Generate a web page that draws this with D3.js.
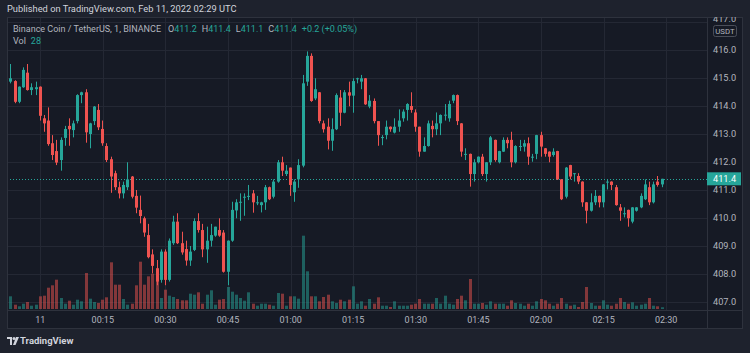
<!DOCTYPE html>
<html><head><meta charset="utf-8">
<script src="https://cdn.jsdelivr.net/npm/d3@7"></script>
<style>
html,body{margin:0;padding:0;background:#1e222d;}
svg{display:block;font-family:Roboto,"Noto Sans",sans-serif;}
</style></head>
<body><svg id="c" width="750" height="353"></svg>
<script>
// ---- data (1-minute candles, BNB/USDT, Binance) ----
const startMinute = "2022-02-10T23:52:00Z";
const open = [413.05,414.87,414.89,414.15,414.67,415.19,414.57,414.6,414.69,413.56,413.48,412.67,412.39,412.07,412.86,413.29,413.14,413.46,414.39,414.49,413.0,413.46,413.86,413.18,412.57,412.1,411.6,411.1,410.88,411.1,411.48,410.79,410.29,409.99,409.39,408.7,408.2,407.79,408.8,407.79,409.1,409.87,409.1,408.89,408.48,408.86,409.89,409.57,408.88,409.19,409.37,409.57,409.48,408.08,409.19,410.27,410.55,410.74,410.78,410.88,410.55,410.46,410.56,411.1,410.76,411.3,411.99,411.57,411.8,410.92,411.38,411.87,414.87,415.79,414.27,414.49,413.38,413.26,412.76,413.17,414.3,413.76,414.49,414.37,414.98,414.87,414.99,413.98,414.18,413.46,412.86,412.96,413.26,413.05,413.26,413.56,413.86,414.0,413.77,413.26,412.37,412.57,413.29,413.17,413.38,413.67,413.56,414.19,414.39,413.38,412.27,412.29,411.57,411.99,412.19,411.57,411.99,412.79,411.99,412.37,412.79,412.79,411.99,412.56,412.55,412.67,412.18,412.29,412.96,412.49,412.37,412.25,412.39,411.38,410.76,411.89,411.58,411.5,411.3,410.56,410.26,410.56,410.79,410.56,411.29,411.3,411.1,410.38,410.16,410.29,409.87,410.26,410.38,410.67,411.1,410.56,411.3,411.2];
const high = [414.87,415.5,414.92,414.7,415.38,415.5,414.81,414.87,414.7,413.68,413.95,412.96,412.79,412.88,413.29,413.56,413.48,414.42,414.51,414.6,413.4,414.0,414.07,413.48,412.67,412.19,411.69,411.3,411.3,411.99,411.5,411.0,410.8,410.05,409.79,408.88,408.5,408.88,408.88,409.27,410.08,410.17,409.51,409.19,409.0,409.99,410.17,409.79,409.69,409.79,409.69,409.99,409.57,409.2,410.58,410.67,410.88,410.88,411.18,411.0,410.79,410.58,411.18,411.12,411.38,412.07,412.19,411.89,411.8,411.38,412.1,415.11,415.95,415.88,414.99,414.5,413.48,413.56,413.56,414.45,414.57,414.57,414.87,414.99,415.01,415.11,415.0,414.39,414.27,413.46,412.96,413.48,413.27,413.56,413.88,413.88,414.1,414.49,413.88,413.26,412.88,413.48,413.48,413.77,413.7,414.07,414.19,414.41,414.41,413.39,412.49,412.3,412.1,412.2,412.29,412.0,412.93,412.8,412.4,412.88,412.88,413.08,412.6,412.79,412.79,412.88,412.29,412.97,413.08,412.5,412.38,412.49,412.4,411.39,411.82,411.9,411.6,411.6,411.31,410.57,410.88,411.0,410.8,411.21,411.38,411.31,411.18,410.5,410.38,410.3,410.39,410.39,410.88,411.38,411.3,411.3,411.5,411.4];
const low = [413.0,414.81,414.1,414.1,414.65,414.55,414.39,414.39,413.48,413.08,412.58,412.07,411.89,411.69,412.58,412.58,412.88,413.38,414.1,412.69,412.49,413.32,413.14,412.58,412.0,410.9,411.0,410.7,410.7,411.0,410.7,410.17,409.81,409.33,408.56,408.02,407.6,407.69,407.6,407.73,409.04,409.07,408.69,408.3,408.29,408.82,409.48,408.6,408.4,408.98,409.33,409.33,408.05,407.6,409.15,409.99,409.9,410.08,410.64,410.19,410.46,410.2,410.29,410.64,410.7,411.26,411.5,411.5,410.79,410.58,411.08,411.81,414.72,414.15,414.21,413.38,413.05,412.45,412.4,413.14,413.29,413.74,413.99,413.76,414.81,414.6,414.04,413.92,413.38,412.58,412.6,412.81,413.08,413.02,413.08,413.44,413.48,413.76,413.08,412.19,412.37,412.55,412.88,412.96,412.96,413.48,413.44,414.1,413.32,412.19,412.07,411.12,411.3,411.95,411.5,411.3,411.89,412.01,411.95,412.36,412.49,411.81,411.95,412.39,412.37,411.9,412.01,412.1,412.19,412.19,411.99,412.19,411.36,410.64,410.7,411.38,411.3,411.21,410.4,409.81,410.23,410.46,410.38,410.38,411.02,411.0,410.44,409.9,410.02,409.69,409.81,410.23,410.35,410.64,410.46,410.52,411.12,411.1];
const close = [414.81,414.99,414.15,414.69,415.29,414.57,414.67,414.67,413.65,413.38,412.64,412.25,411.98,412.79,413.18,413.17,413.38,414.39,414.49,413.06,413.38,413.98,413.24,412.67,412.07,411.48,411.1,410.88,411.18,411.38,410.76,410.37,410.07,409.48,408.6,408.29,407.73,408.8,407.79,409.19,409.87,409.1,408.77,408.48,408.8,409.89,409.57,408.88,409.19,409.39,409.69,409.37,408.08,409.19,410.29,410.56,410.58,410.76,410.79,410.56,410.56,410.56,411.1,410.67,411.3,411.99,411.69,411.69,411.18,411.3,411.89,414.81,415.79,414.18,414.6,413.46,413.17,412.76,413.17,414.39,413.76,414.49,414.37,414.89,414.99,414.99,414.06,414.19,413.46,412.96,412.89,413.26,413.17,413.26,413.48,413.8,414.07,413.86,413.26,412.37,412.57,413.38,413.17,413.38,413.68,413.69,414.07,414.39,413.46,412.37,412.29,411.57,411.99,412.19,411.57,411.99,412.88,412.07,412.39,412.79,412.67,411.99,412.57,412.57,412.67,412.19,412.19,412.96,412.55,412.29,412.19,412.37,411.38,410.67,411.8,411.48,411.6,411.3,410.56,410.26,410.56,410.79,410.56,411.2,411.3,411.18,410.46,410.26,410.17,409.99,410.38,410.38,410.79,411.2,410.56,411.2,411.18,411.4];
const volume = [192,203,69,43,85,112,53,69,203,213,341,379,469,176,85,133,69,149,123,576,165,112,96,149,187,747,389,389,160,69,85,379,757,389,523,565,656,176,309,213,192,160,139,139,245,229,267,85,229,299,69,149,160,352,277,229,176,133,267,85,53,85,85,69,53,256,245,53,203,203,165,1173,603,203,203,123,192,229,123,96,149,123,149,363,85,123,53,160,85,187,53,53,32,123,53,53,53,69,85,160,85,85,85,176,85,213,85,69,160,213,139,480,85,85,96,69,123,85,85,85,53,139,96,85,53,85,53,123,160,139,85,53,85,176,85,53,69,32,112,352,96,53,53,139,69,53,85,176,112,85,107,53,69,85,176,53,43,28];
const priceTicks = [407,408,409,410,411,412,413,414,415,416,417];
const symbolTitle = "Binance Coin / TetherUS, 1, BINANCE";
const publishedText = "Published on TradingView.com, Feb 11, 2022 02:29 UTC";
const lastPrice = 411.4;
const legendValues = [["O","411.2"],["H","411.4"],["L","411.1"],["C","411.4"]];
const changeText = "+0.2 (+0.05%)";
const lastVolume = "28";

// ---- layout ----
const W = 750, H = 353;
const paneL = 7, paneR = 707, paneT = 17, paneB = 310, axisR = 742, timeB = 328;
const UP = "#26a69a", DN = "#ef5350";
const UPV = "rgba(38,166,154,0.5)", DNV = "rgba(239,83,80,0.5)";
const GRID = "#242834", BORDER = "#2e323d", TXT = "#b2b5be";

const svg = d3.select("#c");
svg.append("rect").attr("width", W).attr("height", H).attr("fill", "#1e222d");
svg.append("rect").attr("x", paneL).attr("y", paneT).attr("width", axisR - paneL).attr("height", timeB - paneT).attr("fill", "#161a25");

const t0 = new Date(startMinute).getTime();
const data = open.map((o, i) => ({
  t: new Date(t0 + i * 60000), o, h: high[i], l: low[i], c: close[i], v: volume[i]
}));

const x = d3.scaleUtc()
  .domain([new Date("2022-02-11T00:00:00Z"), new Date("2022-02-11T02:30:00Z")])
  .range([40.2, 666.2]);
const y = d3.scaleLinear().domain([407, 416]).range([302, 50]);
const yv = d3.scaleLinear().domain([0, 1200]).range([paneB - 1, paneB - 76]);

const defs = svg.append("defs");
defs.append("clipPath").attr("id", "pane")
  .append("rect").attr("x", paneL).attr("y", paneT).attr("width", paneR - paneL).attr("height", paneB - paneT);
defs.append("clipPath").attr("id", "paxis")
  .append("rect").attr("x", paneR).attr("y", paneT).attr("width", axisR - paneR).attr("height", paneB - paneT);

const pane = svg.append("g").attr("clip-path", "url(#pane)");

// grid
const tickTimes = d3.utcMinute.every(15).range(x.invert(paneL), x.invert(paneR));
pane.selectAll("line.vg").data(tickTimes).join("line")
  .attr("x1", d => Math.round(x(d)) + 0.5).attr("x2", d => Math.round(x(d)) + 0.5)
  .attr("y1", paneT).attr("y2", paneB).attr("stroke", GRID);
pane.selectAll("line.hg").data(priceTicks).join("line")
  .attr("x1", paneL).attr("x2", paneR)
  .attr("y1", d => Math.round(y(d)) + 0.5).attr("y2", d => Math.round(y(d)) + 0.5).attr("stroke", GRID);

// volume
pane.selectAll("rect.vol").data(data).join("rect")
  .attr("x", d => Math.round(x(d.t) - 1.5)).attr("width", 3)
  .attr("y", d => yv(d.v)).attr("height", d => yv(0) - yv(d.v))
  .attr("fill", d => d.c >= d.o ? UPV : DNV);

// last price line
pane.append("line").attr("x1", paneL).attr("x2", paneR)
  .attr("y1", Math.round(y(lastPrice)) + 0.5).attr("y2", Math.round(y(lastPrice)) + 0.5)
  .attr("stroke", UP).attr("stroke-dasharray", "1,2");

// candles
const cg = pane.selectAll("g.c").data(data).join("g");
cg.append("rect").attr("x", d => Math.round(x(d.t) - 0.5)).attr("width", 1)
  .attr("y", d => y(d.h)).attr("height", d => Math.max(1, y(d.l) - y(d.h)))
  .attr("fill", d => d.c >= d.o ? UP : DN);
cg.append("rect").attr("x", d => Math.round(x(d.t) - 1.5)).attr("width", 3)
  .attr("y", d => y(Math.max(d.o, d.c)))
  .attr("height", d => Math.max(1, Math.abs(y(d.o) - y(d.c))))
  .attr("fill", d => d.c >= d.o ? UP : DN);

// borders
const bl = (x1, y1, x2, y2) => svg.append("line").attr("x1", x1).attr("y1", y1).attr("x2", x2).attr("y2", y2).attr("stroke", BORDER);
bl(paneL + 0.5, paneT, paneL + 0.5, timeB);
bl(paneR + 0.5, paneT, paneR + 0.5, timeB);
bl(axisR + 0.5, paneT, axisR + 0.5, timeB);
bl(paneL, paneT + 0.5, axisR + 1, paneT + 0.5);
bl(paneL, paneB + 0.5, axisR + 1, paneB + 0.5);
bl(paneL, timeB + 0.5, axisR + 1, timeB + 0.5);

// price axis (top label sits just above the currency box, clipped by the pane top)
const pa = svg.append("g").attr("clip-path", "url(#paxis)");
pa.selectAll("text").data(priceTicks).join("text")
  .attr("x", 713).attr("y", d => y(d) - (d === 417 ? 3 : 0)).attr("dy", "0.35em")
  .attr("font-size", 9.2).attr("fill", TXT).text(d => d.toFixed(1));
pa.append("rect").attr("x", 713.5).attr("y", 25.5).attr("width", 23).attr("height", 11).attr("rx", 2)
  .attr("fill", "#161a25").attr("stroke", "#4a4e59");
pa.append("text").attr("x", 725).attr("y", 31.5).attr("dy", "0.35em").attr("text-anchor", "middle")
  .attr("font-size", 7.8).attr("fill", TXT).text("USDT");
svg.append("rect").attr("x", paneR).attr("y", y(lastPrice) - 6.5).attr("width", 34).attr("height", 13).attr("fill", UP);
svg.append("text").attr("x", 713).attr("y", y(lastPrice)).attr("dy", "0.35em")
  .attr("font-size", 9.2).attr("fill", "#ffffff").text(lastPrice.toFixed(1));

// time axis
const fmt = d => (d.getUTCHours() === 0 && d.getUTCMinutes() === 0) ? d3.utcFormat("%-d")(d) : d3.utcFormat("%H:%M")(d);
svg.append("g").selectAll("text").data(tickTimes).join("text")
  .attr("x", d => x(d)).attr("y", 319.5).attr("dy", "0.35em").attr("text-anchor", "middle")
  .attr("font-size", 9).attr("fill", TXT).text(fmt);

// header
svg.append("text").attr("x", 7).attr("y", 9).attr("dy", "0.35em").attr("font-size", 9.3)
  .attr("fill", "#d1d4dc").text(publishedText);

// legend
const lg = svg.append("text").attr("x", 13).attr("y", 29).attr("dy", "0.35em").attr("font-size", 9).attr("fill", TXT);
lg.append("tspan").text(symbolTitle);
legendValues.forEach(([k, v], i) => {
  lg.append("tspan").attr("dx", i === 0 ? 7 : 5).text(k);
  lg.append("tspan").attr("fill", UP).text(v);
});
lg.append("tspan").attr("dx", 5).attr("fill", UP).text(changeText);
const vl = svg.append("text").attr("x", 13).attr("y", 41).attr("dy", "0.35em").attr("font-size", 9).attr("fill", TXT);
vl.append("tspan").text("Vol");
vl.append("tspan").attr("dx", 5).attr("fill", UP).text(lastVolume);

// footer logo
const logo = svg.append("g").attr("transform", "translate(7,337)").attr("fill", "#d1d4dc");
logo.append("path").attr("d", "M0,0 H5 V8 H3 V2 H0 Z");
logo.append("circle").attr("cx", 7).attr("cy", 1.5).attr("r", 1.5);
logo.append("path").attr("d", "M9,0 H12 L8.5,8 H6 Z");
svg.append("text").attr("x", 20).attr("y", 341).attr("dy", "0.35em").attr("font-size", 9.5)
  .attr("font-weight", "bold").attr("fill", "#d1d4dc").text("TradingView");
</script></body></html>
